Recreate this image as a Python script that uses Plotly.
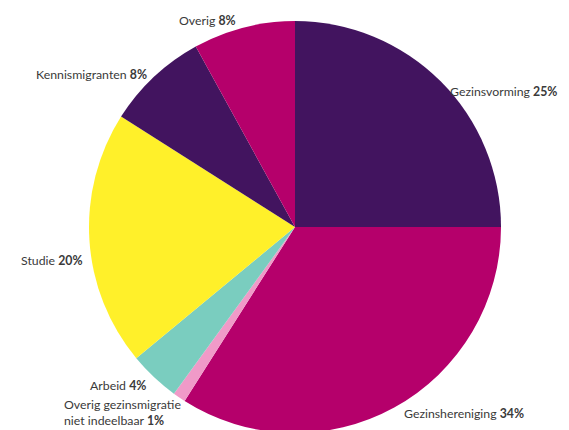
import plotly.graph_objects as go

# Data
categories = ["Gezinsvorming", "Gezinshereniging", "Overig gezinsmigratie<br>niet indeelbaar",
              "Arbeid", "Studie", "Kennismigranten", "Overig"]
values = [25, 34, 1, 4, 20, 8, 8]
colors = ["#42145f", "#b5006b", "#f09ac8", "#7acdbf", "#fff02a", "#42145f", "#b5006b"]

# Label placement (screen pixels in the 569x430 window): x, y, xanchor
label_pos = [
    (559, 92, "right"),
    (402, 413, "left"),
    (62, 412, "left"),
    (148, 385, "right"),
    (84, 260, "right"),
    (149, 74, "right"),
    (238, 21, "right"),
]

W, H = 569, 430
OFF = 8  # page body margin
cx, cy, r = 295 - OFF, 227 - OFF, 206

fig = go.Figure(go.Pie(
    labels=categories,
    values=values,
    sort=False,
    direction="clockwise",
    rotation=0,
    marker=dict(colors=colors, line=dict(width=0)),
    textinfo="none",
    hoverinfo="label+percent",
    domain=dict(x=[(cx - r) / W, (cx + r) / W], y=[(H - cy - r) / H, (H - cy + r) / H]),
    showlegend=False,
))

annotations = []
for cat, v, (px, py, xa) in zip(categories, values, label_pos):
    annotations.append(dict(
        x=(px - OFF) / W, y=1 - (py - OFF) / H, xref="paper", yref="paper",
        xanchor=xa, yanchor="middle", align="left",
        text=f"{cat} <b>{v}%</b>", showarrow=False,
        font=dict(family="Lato", size=12.3, color="#3a3a3a"),
    ))

fig.update_layout(
    width=W, height=H,
    margin=dict(l=0, r=0, t=0, b=0),
    paper_bgcolor="white",
    plot_bgcolor="white",
    annotations=annotations,
)

fig.write_html("out.html")
